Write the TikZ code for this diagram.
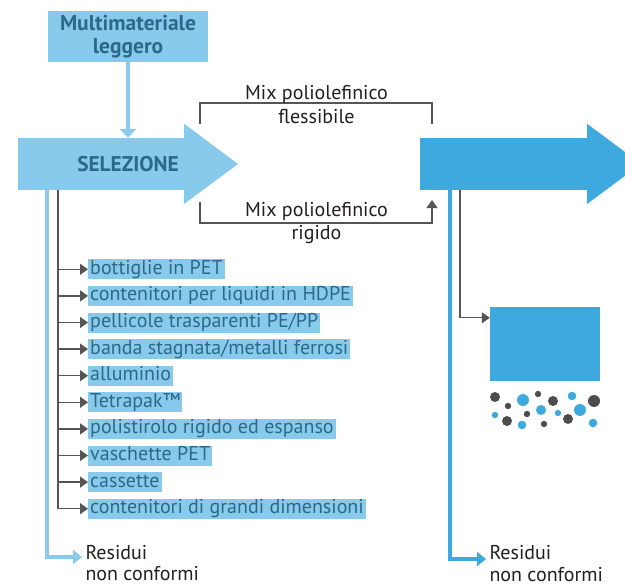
\documentclass[tikz,border=0pt]{standalone}
\usepackage{fontspec}
\setmainfont{PT Sans}
\usetikzlibrary{arrows.meta, positioning}

\definecolor{lightblue}{HTML}{88CAEB}
\definecolor{procblue}{HTML}{3EA9DF}
\definecolor{textblue}{HTML}{2C6989}
\definecolor{linegray}{HTML}{555555}
\definecolor{dotgray}{HTML}{4D4D4D}
\definecolor{darktext}{HTML}{231F20}

\tikzset{
  box/.style={fill=lightblue, inner sep=0pt},
  procbox/.style={fill=procblue, inner sep=0pt},
  item/.style={fill=lightblue, text=textblue, anchor=west, inner xsep=2pt, inner ysep=0.5pt,
    text height=14.5pt, text depth=4.5pt, font=\fontsize{20}{22}\selectfont},
  trunk/.style={linegray, line width=1.3pt},
  branch/.style={trunk, -{Triangle[length=8pt, width=11pt]}},
  feed/.style={lightblue, line width=4pt},
  feedout/.style={procblue, line width=4pt},
  plain/.style={text=darktext, align=center, font=\fontsize{20}{23.5}\selectfont},
}

\begin{document}
\begin{tikzpicture}[x=1pt, y=-1pt]
  \useasboundingbox (0,0) rectangle (625,586);
  \clip (0,0) rectangle (625,586);

  % input and selection
  \node[box, minimum width=160pt, minimum height=51pt, text=textblue, align=center,
    font=\bfseries\fontsize{21.5}{23}\selectfont] (multi) at (128,36.5) {Multimateriale\\leggero};
  \node[box, minimum width=166pt, minimum height=52pt] (sel) at (101,164) {};
  \fill[lightblue] (sel.north east) -- ++(0,-14) -- (238,164) -- ++(-54,40) -- (sel.south east) -- cycle;
  \node[text=textblue, font=\bfseries\fontsize{21.3}{22}\selectfont] (selt) at (128,164) {SELEZIONE};
  \draw[feed, -{Triangle[length=9pt, width=16pt]}] (multi) -- (multi |- sel.north);

  % second stage
  \node[procbox, minimum width=167pt, minimum height=52pt] (rec) at (503.5,164) {};
  \fill[procblue] (rec.north east) -- ++(0,-14) -- (641,164) -- ++(-54,40) -- (rec.south east) -- cycle;

  % mixes
  \coordinate (fl) at (200,124);
  \coordinate (fr) at (432,124);
  \coordinate (rl) at (200,202);
  \coordinate (rr) at (432,200);
  \draw[trunk] (fl) -- ++(0,-21) -| (fr);
  \draw[trunk, -{Triangle[length=8pt, width=11pt]}] (rl) -- ++(0,21) -| (rr);
  \node[plain] (flex) at (316.5,104.5) {Mix poliolefinico\\flessibile};
  \node[plain] (rig) at (316.5,223) {Mix poliolefinico\\rigido};

  % sorted fractions
  \coordinate (gl) at (58,190);
  \foreach \t [count=\i] in {bottiglie in PET, contenitori per liquidi in HDPE,
      pellicole trasparenti PE/PP, banda stagnata/metalli ferrosi, alluminio,
      Tetrapak™, polistirolo rigido ed espanso, vaschette PET, cassette,
      contenitori di grandi dimensioni} {
    \node[item] (it\i) at (88,{269.3+26.6*(\i-1)}) {\t};
    \draw[branch] (it\i -| gl) -- (it\i.west);
  }
  \draw[trunk] (gl) -- ([yshift=-0.65pt]gl |- it10);

  % residues
  \coordinate (bl) at (47,190);
  \node[plain, align=left, anchor=west, font=\fontsize{20}{21}\selectfont] (resl) at (82,563) {Residui\\non conformi};
  \draw[feed, -{Triangle[length=9pt, width=14pt]}] (bl) |- ([yshift=6pt]resl.west);

  \coordinate (br) at (450,190);
  \node[plain, align=left, anchor=west, font=\fontsize{20}{22}\selectfont] (resr) at (486,564) {Residui\\non conformi};
  \draw[feedout, -{Triangle[length=9pt, width=14pt]}] (br) |- ([yshift=5pt]resr.west);

  % product
  \coordinate (gr) at (460,190);
  \node[procbox, minimum width=110pt, minimum height=74pt] (blk) at (545,344) {};
  \draw[branch] (gr) |- ([yshift=-11pt]blk.north west);

  % granules
  \foreach \x/\y/\r/\c in {495/397/5/dotgray, 508/406/3.2/dotgray, 538/394/3.2/dotgray,
      553/401/5/dotgray, 594/401/6/dotgray, 507/421/5/dotgray, 527/414/3.2/dotgray,
      544/424/3.2/dotgray, 568/419/5/dotgray,
      523/400/6/procblue, 495/415/3.2/procblue, 541/410/5/procblue, 522/425/4.3/procblue,
      558/413/3.2/procblue, 572/396/4.3/procblue, 580/410/6/procblue, 593/423/4.3/procblue}
    \fill[\c] (\x,\y) circle[radius=\r];
\end{tikzpicture}
\end{document}
